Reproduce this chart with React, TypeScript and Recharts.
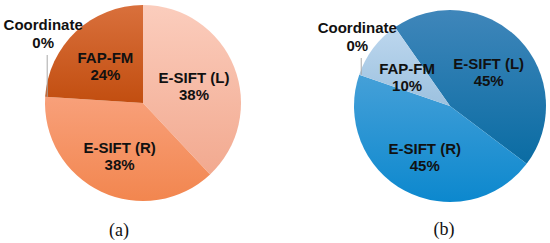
import React from 'react';
import { PieChart, Pie, Cell } from 'recharts';

const categories = ['E-SIFT (L)', 'E-SIFT (R)', 'Coordinate', 'FAP-FM'];
const valuesA = [38, 38, 0, 24];
const valuesB = [45, 45, 0, 10];
const captions = ['(a)', '(b)'];

const dataA = categories.map((name, i) => ({ name, value: valuesA[i] }));
const dataB = categories.map((name, i) => ({ name, value: valuesB[i] }));

const gradA = [
  ['gA0', '#FBCDBD', '#F2A98F'],
  ['gA1', '#F8A07A', '#F2864F'],
  ['gA2', '#D9703C', '#C24E10'],
  ['gA3', '#D9703C', '#C24E10'],
];
const gradB = [
  ['gB0', '#3F86BA', '#0A6CA3'],
  ['gB1', '#45A0D8', '#0C88CE'],
  ['gB2', '#BDD7EE', '#9CC1DF'],
  ['gB3', '#BDD7EE', '#9CC1DF'],
];
const RAD = Math.PI / 180;
const FONT = '"Liberation Sans", Arial, sans-serif';

const renderLabel = (props: any) => {
  const { cx, cy, midAngle, outerRadius, name, value } = props;
  if (value === 0) {
    const ex = cx + outerRadius * Math.cos(-midAngle * RAD);
    const ey = cy + outerRadius * Math.sin(-midAngle * RAD);
    const topY = cy - 48;
    return (
      <g>
        <line x1={ex + 2} y1={ey} x2={ex + 2} y2={topY} stroke="#A8A8A8" strokeWidth={1} />
        <text x={ex - 2} y={topY - 31} textAnchor="middle" dominantBaseline="central" fontFamily={FONT} fontWeight="bold" fontSize={15} fill="#111">
          {name}
        </text>
        <text x={ex - 2} y={topY - 13} textAnchor="middle" dominantBaseline="central" fontFamily={FONT} fontWeight="bold" fontSize={15} fill="#111">
          {`${value}%`}
        </text>
      </g>
    );
  }
  const r = outerRadius * 0.56;
  const x = cx + r * Math.cos(-midAngle * RAD);
  const y = cy + r * Math.sin(-midAngle * RAD);
  return (
    <g>
      <text x={x} y={y - 5} textAnchor="middle" dominantBaseline="central" fontFamily={FONT} fontWeight="bold" fontSize={15} fill="#111">
        {name}
      </text>
      <text x={x} y={y + 12} textAnchor="middle" dominantBaseline="central" fontFamily={FONT} fontWeight="bold" fontSize={15} fill="#111">
        {`${value}%`}
      </text>
    </g>
  );
};

export default function App() {
  return (
    <div style={{ position: 'absolute', left: 0, top: 0, width: 550, height: 243, background: '#fff' }}>
      <PieChart width={550} height={243} margin={{ top: 0, right: 0, bottom: 0, left: 0 }}>
        <defs>
          {[...gradA, ...gradB].map(([id, c1, c2]) => (
            <linearGradient key={id} id={id} x1="0" y1="0" x2="0" y2="1">
              <stop offset="0%" stopColor={c1} />
              <stop offset="100%" stopColor={c2} />
            </linearGradient>
          ))}
        </defs>
        <Pie
          data={dataA}
          dataKey="value"
          nameKey="name"
          cx={143}
          cy={103}
          outerRadius={98}
          startAngle={90}
          endAngle={-270}
          stroke="none"
          label={renderLabel}
          labelLine={false}
          isAnimationActive={false}
        >
          {dataA.map((d, i) => (
            <Cell key={d.name} fill={`url(#${gradA[i][0]})`} />
          ))}
        </Pie>
        <Pie
          data={dataB}
          dataKey="value"
          nameKey="name"
          cx={450}
          cy={106}
          outerRadius={96}
          startAngle={125}
          endAngle={-235}
          stroke="none"
          label={renderLabel}
          labelLine={false}
          isAnimationActive={false}
        >
          {dataB.map((d, i) => (
            <Cell key={d.name} fill={`url(#${gradB[i][0]})`} />
          ))}
        </Pie>
      </PieChart>
      <div style={{ position: 'absolute', left: 119, top: 230, transform: 'translate(-50%, -50%)', fontFamily: '"Liberation Serif", "Times New Roman", serif', fontSize: 18, color: '#111' }}>
        {captions[0]}
      </div>
      <div style={{ position: 'absolute', left: 444, top: 229, transform: 'translate(-50%, -50%)', fontFamily: '"Liberation Serif", "Times New Roman", serif', fontSize: 18, color: '#111' }}>
        {captions[1]}
      </div>
    </div>
  );
}
